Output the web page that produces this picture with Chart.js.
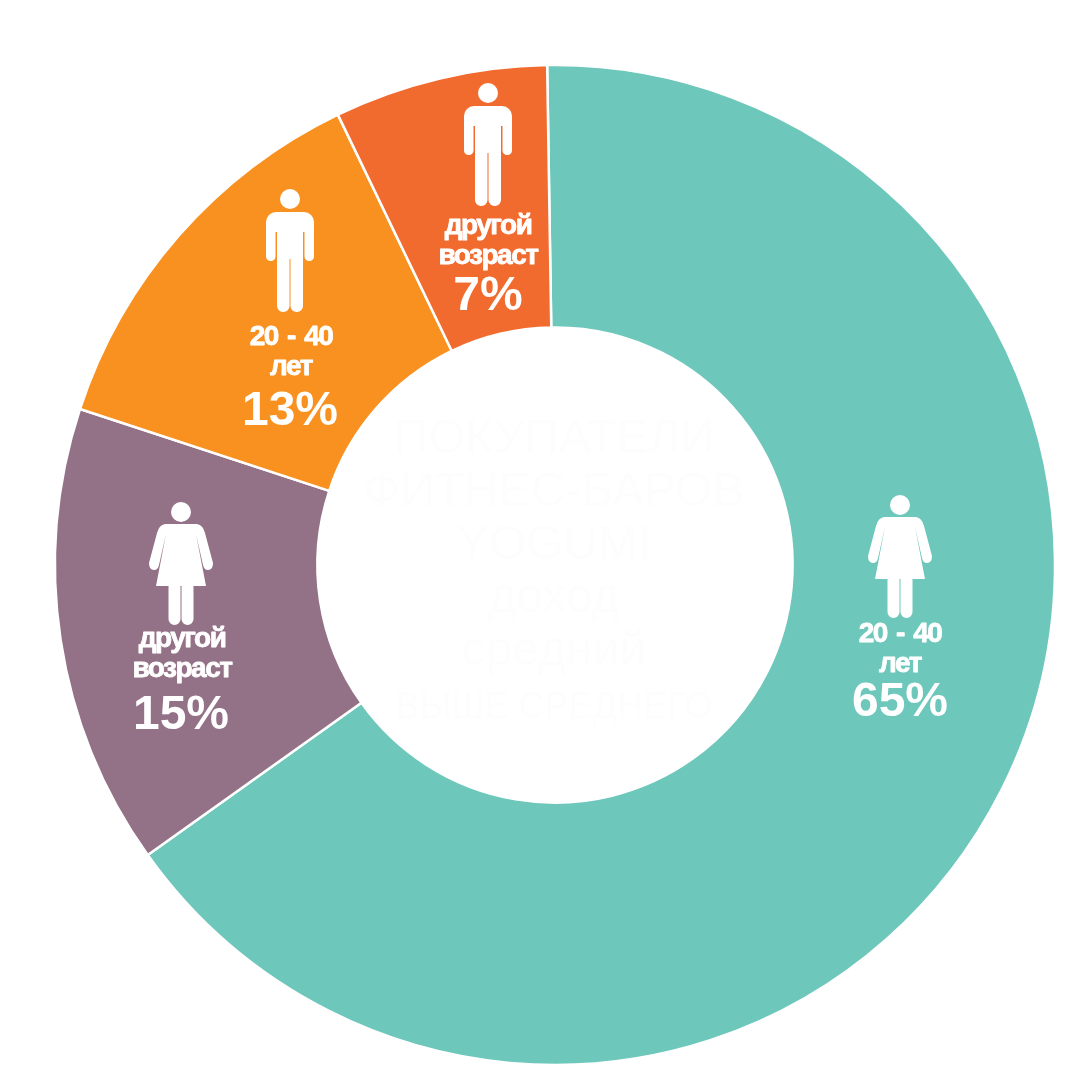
<!DOCTYPE html>
<html>
<head>
<meta charset="utf-8">
<script src="https://cdn.jsdelivr.net/npm/chart.js@4"></script>
<style>
  html, body { margin: 0; padding: 0; background: #fff; }
  #wrap { position: absolute; left: 0; top: 0; width: 1075px; height: 1084px; }
</style>
</head>
<body>
<div id="wrap"><canvas id="ageChart" width="1075" height="1084"></canvas></div>
<script>
const categories = ['Женщины 20 - 40 лет', 'Женщины другой возраст', 'Мужчины 20 - 40 лет', 'Мужчины другой возраст'];
// they round to the printed percents
const shares = [65.4, 14.9, 12.8, 6.9];
const sliceColors = ['#6EC7BB', '#937186', '#F8911F', '#F26B2E'];
const ageLabels = [['20 - 40', 'лет'], ['другой', 'возраст'], ['20 - 40', 'лет'], ['другой', 'возраст']];
const percentLabels = ['65%', '15%', '13%', '7%'];
const icons = ['woman', 'woman', 'man', 'man'];
const centerLines = ['ПОКУПАТЕЛИ', 'ФИТНЕС-БАРОВ', 'YOGUMI', 'доход', 'средний', 'ВЫШЕ СРЕДНЕГО'];

// where each stack sits: icon x and top, text x, first line baseline, percent baseline
const stacks = [
  { x: 900, iconTop: 494, textX: 900, textY: 642, pctY: 716 },
  { x: 181, iconTop: 501, textX: 182, textY: 647, pctY: 729 },
  { x: 290, iconTop: 189, textX: 291, textY: 345, pctY: 425 },
  { x: 488, iconTop: 83, textX: 488, textY: 234, pctY: 310 }
];

function drawMan(ctx, x, y) {
  ctx.beginPath();
  ctx.arc(x, y + 10, 10, 0, Math.PI * 2);
  ctx.fill();
  ctx.beginPath();
  ctx.roundRect(x - 24, y + 23, 48, 20, 12);
  ctx.fill();
  ctx.beginPath();
  ctx.roundRect(x - 24, y + 30, 9.5, 42, 4.5);
  ctx.roundRect(x + 14.5, y + 30, 9.5, 42, 4.5);
  ctx.rect(x - 13, y + 30, 26, 40);
  ctx.roundRect(x - 13, y + 60, 12.5, 63, 6);
  ctx.roundRect(x + 0.5, y + 60, 12.5, 63, 6);
  ctx.fill();
}

function drawWoman(ctx, x, y) {
  ctx.beginPath();
  ctx.arc(x, y + 11, 10, 0, Math.PI * 2);
  ctx.fill();
  ctx.beginPath();
  ctx.moveTo(x - 16, y + 23);
  ctx.lineTo(x + 16, y + 23);
  ctx.quadraticCurveTo(x + 22, y + 24, x + 24, y + 32);
  ctx.lineTo(x + 32, y + 62);
  ctx.quadraticCurveTo(x + 32, y + 69, x + 27, y + 69);
  ctx.quadraticCurveTo(x + 23, y + 69, x + 22, y + 64);
  ctx.lineTo(x + 15, y + 33);
  ctx.lineTo(x + 25, y + 85);
  ctx.lineTo(x - 25, y + 85);
  ctx.lineTo(x - 15, y + 33);
  ctx.lineTo(x - 22, y + 64);
  ctx.quadraticCurveTo(x - 23, y + 69, x - 27, y + 69);
  ctx.quadraticCurveTo(x - 32, y + 69, x - 32, y + 62);
  ctx.lineTo(x - 24, y + 32);
  ctx.quadraticCurveTo(x - 22, y + 24, x - 16, y + 23);
  ctx.closePath();
  ctx.fill();
  ctx.beginPath();
  ctx.roundRect(x - 12.5, y + 80, 12, 44, 6);
  ctx.roundRect(x + 0.5, y + 80, 12, 44, 6);
  ctx.fill();
}

const labelPlugin = {
  id: 'sliceLabels',
  afterDatasetsDraw(chart) {
    const ctx = chart.ctx;
    ctx.save();
    ctx.textAlign = 'center';
    ctx.textBaseline = 'alphabetic';

    // barely visible text inside the hole
    ctx.fillStyle = '#FDFDFD';
    centerLines.forEach((line, i) => {
      ctx.font = (i === 5 ? '36px' : '48px') + ' "Liberation Sans"';
      ctx.fillText(line, 554, 453 + i * 53);
    });

    ctx.fillStyle = '#fff';
    ctx.strokeStyle = '#fff';
    ctx.lineJoin = 'round';
    stacks.forEach((s, i) => {
      if (icons[i] === 'man') drawMan(ctx, s.x, s.iconTop);
      else drawWoman(ctx, s.x, s.iconTop);
      ctx.font = 'bold 28px "Liberation Sans"';
      ctx.letterSpacing = '-1.5px';
      ctx.wordSpacing = '3px';
      ctx.lineWidth = 0.8;
      ageLabels[i].forEach((line, j) => {
        ctx.fillText(line, s.textX, s.textY + j * 29.5);
        ctx.strokeText(line, s.textX, s.textY + j * 29.5);
      });
      ctx.font = 'bold 48px "Liberation Sans"';
      ctx.letterSpacing = '0px';
      ctx.wordSpacing = '0px';
      ctx.fillText(percentLabels[i], s.x, s.pctY);
    });
    ctx.restore();
  }
};

new Chart(document.getElementById('ageChart'), {
  type: 'doughnut',
  data: {
    labels: categories,
    datasets: [{
      data: shares,
      backgroundColor: sliceColors,
      borderColor: '#fff',
      borderWidth: 2.5
    }]
  },
  options: {
    responsive: false,
    animation: false,
    rotation: -0.9,
    cutout: 237.5,
    radius: 500,
    layout: { padding: { left: 54, right: 19, top: 64, bottom: 18 } },
    plugins: { legend: { display: false }, tooltip: { enabled: false } }
  },
  plugins: [labelPlugin]
});
</script>
</body>
</html>
